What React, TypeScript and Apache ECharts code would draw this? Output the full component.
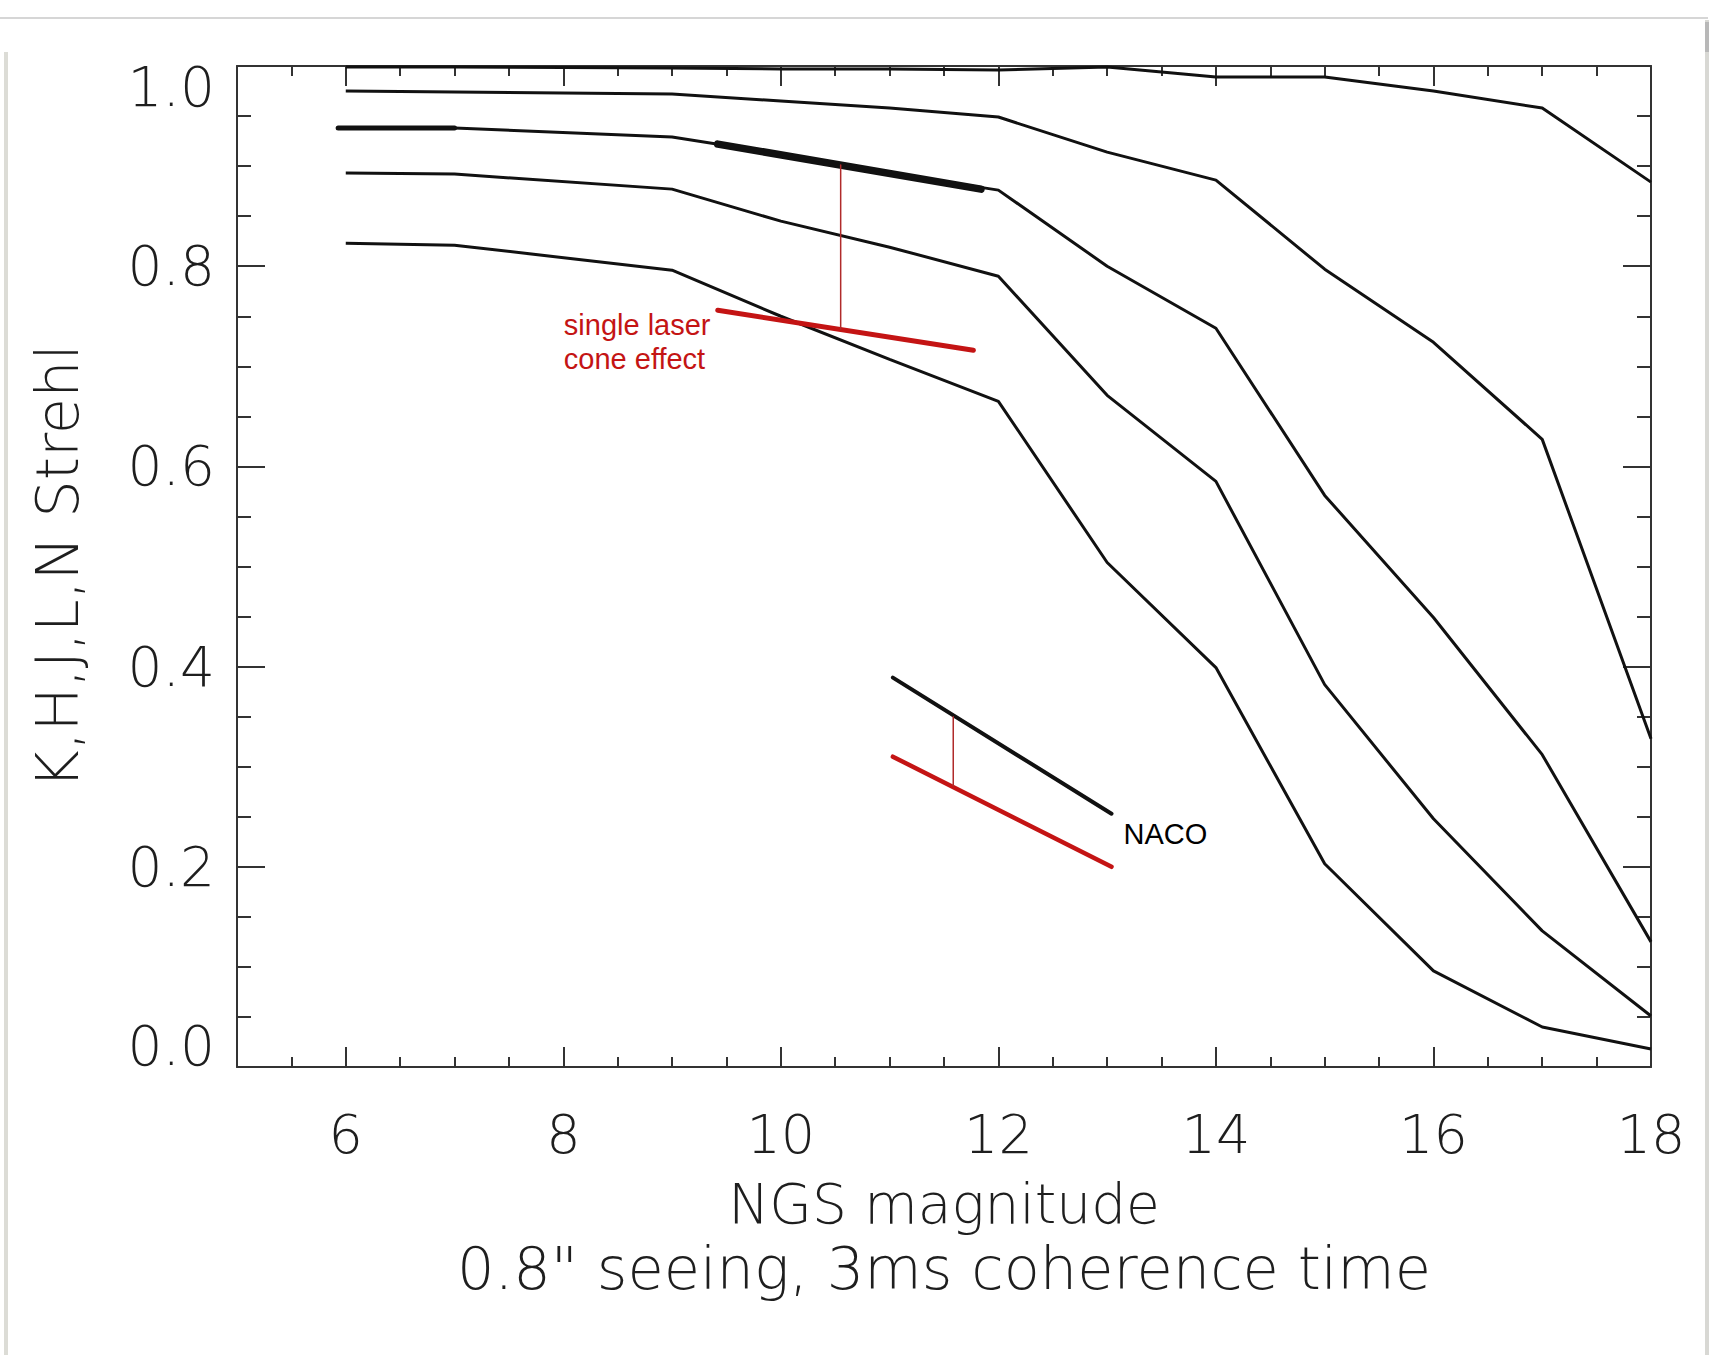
import React, { useEffect, useRef } from 'react';
import * as echarts from 'echarts';

// NGS magnitudes at which the Strehl curves have vertices
const magnitudes = [6, 7, 9, 10, 11, 12, 13, 14, 15, 16, 17, 18];
// Strehl ratio per band (top to bottom)
const strehlN = [0.999, 0.999, 0.998, 0.997, 0.997, 0.996, 0.999, 0.989, 0.989, 0.975, 0.958, 0.884];
const strehlL = [0.975, 0.974, 0.972, 0.965, 0.958, 0.949, 0.914, 0.886, 0.797, 0.724, 0.627, 0.328];
const strehlK = [0.938, 0.938, 0.929, 0.912, 0.893, 0.876, 0.8, 0.738, 0.571, 0.449, 0.312, 0.125];
const strehlH = [0.893, 0.892, 0.877, 0.845, 0.819, 0.79, 0.671, 0.585, 0.382, 0.248, 0.136, 0.051];
const strehlJ = [0.823, 0.821, 0.796, 0.75, 0.707, 0.665, 0.504, 0.399, 0.203, 0.096, 0.04, 0.018];

// annotation segments [magnitude, strehl]
const kBoldStart = [[5.93, 0.938], [7, 0.938]];
const coneBlack = [[9.42, 0.922], [11.84, 0.877]];
const coneRed = [[9.42, 0.756], [11.77, 0.716]];
const coneDrop = [[10.55, 0.901], [10.55, 0.737]];
const nacoBlack = [[11.03, 0.389], [13.04, 0.253]];
const nacoRed = [[11.03, 0.31], [13.04, 0.2]];
const nacoDrop = [[11.585, 0.35], [11.585, 0.281]];

const coneLabel = { text: 'single laser\ncone effect', at: [8.0, 0.724] };
const nacoLabel = { text: 'NACO', at: [13.146, 0.233] };

const xNameLine1 = 'NGS magnitude';
const xNameLine2 = '0.8" seeing, 3ms coherence time';
const yName = 'K,H,J,L,N Strehl';

const RED = '#c41414';
const DROP = '#b02a2a';
const AXIS = '#333333';
const FONT = "'DejaVu Sans', sans-serif";

export default function App() {
  const ref = useRef<HTMLDivElement>(null);

  useEffect(() => {
    if (!ref.current) return;
    const chart = echarts.init(ref.current, undefined, { renderer: 'svg' });

    const labelFont = { fontFamily: FONT, fontWeight: 200, fontSize: 54, color: '#1e1e1e' };
    const tickStyle = { color: AXIS, width: 2 };

    const mainX = (pos: 'bottom' | 'top', withLabels: boolean) => ({
      type: 'value',
      position: pos,
      min: 5,
      max: 18,
      splitNumber: 6,
      minInterval: 2,
      maxInterval: 2,
      axisLine: { show: true, onZero: false, lineStyle: { color: AXIS, width: 2 } },
      axisTick: { show: true, inside: true, length: 20, lineStyle: tickStyle },
      axisLabel: withLabels
        ? { show: true, ...labelFont, margin: 40, showMinLabel: false, formatter: (v: number) => (v === 5 ? '' : String(v)) }
        : { show: false },
      splitLine: { show: false },
      ...(withLabels
        ? {
            name: `{a|${xNameLine1}}\n{b|${xNameLine2}}`,
            nameLocation: 'middle',
            nameGap: 104,
            nameTextStyle: {
              ...labelFont,
              lineHeight: 65,
              rich: {
                a: { ...labelFont, fontSize: 55, lineHeight: 65 },
                b: { ...labelFont, fontSize: 59, lineHeight: 65 },
              },
            },
          }
        : {}),
    });
    const minorX = (pos: 'bottom' | 'top') => ({
      type: 'value',
      position: pos,
      min: 5,
      max: 18,
      interval: 0.5,
      axisLine: { show: false, onZero: false },
      axisTick: { show: true, inside: true, length: 10, lineStyle: tickStyle },
      axisLabel: { show: false },
      splitLine: { show: false },
    });
    const yAx = (pos: 'left' | 'right', withLabels: boolean) => ({
      type: 'value',
      position: pos,
      min: 0,
      max: 1,
      interval: 0.2,
      axisLine: { show: true, onZero: false, lineStyle: { color: AXIS, width: 2 } },
      axisTick: { show: true, inside: true, length: 28, lineStyle: tickStyle },
      minorTick: { show: true, splitNumber: 4, length: 14, lineStyle: tickStyle },
      axisLabel: withLabels
        ? {
            show: true,
            ...labelFont,
            fontSize: 55,
            margin: 22,
            lineHeight: 42,
            verticalAlignMinLabel: 'bottom',
            verticalAlignMaxLabel: 'top',
            formatter: (v: number) => v.toFixed(1),
          }
        : { show: false },
      splitLine: { show: false },
      minorSplitLine: { show: false },
      ...(withLabels
        ? {
            name: yName,
            nameLocation: 'middle',
            nameRotate: 90,
            nameGap: 150,
            nameTextStyle: { ...labelFont, fontSize: 59 },
          }
        : {}),
    });

    const curve = (name: string, ys: number[]) => ({
      name,
      type: 'line',
      data: magnitudes.map((m, i) => [m, ys[i]]),
      showSymbol: false,
      symbol: 'none',
      lineStyle: { color: '#111', width: 3 },
      silent: true,
      z: 2,
    });
    const seg = (name: string, data: number[][], color: string, width: number, z = 3) => ({
      name,
      type: 'line',
      data,
      showSymbol: false,
      symbol: 'none',
      lineStyle: { color, width, cap: 'round' },
      silent: true,
      z,
    });
    const textMark = (name: string, lab: { text: string; at: number[] }, color: string) => ({
      name,
      type: 'scatter',
      data: [lab.at],
      symbolSize: 1,
      itemStyle: { color: 'rgba(255,255,255,0)' },
      silent: true,
      z: 5,
      label: {
        show: true,
        position: 'right',
        distance: 0,
        formatter: lab.text,
        color,
        opacity: 1,
        fontFamily: "'Liberation Sans', Arial, sans-serif",
        fontWeight: 'normal',
        fontSize: 29,
        lineHeight: 34,
        align: 'left',
        verticalAlign: 'middle',
        textBorderWidth: 0,
      },
    });

    chart.setOption({
      animation: false,
      backgroundColor: '#ffffff',
      grid: { left: 237, top: 66, width: 1414, height: 1001, outerBoundsMode: 'none', containLabel: false },
      xAxis: [mainX('bottom', true), minorX('bottom'), mainX('top', false), minorX('top')],
      yAxis: [yAx('left', true), yAx('right', false)],
      graphic: [
        { type: 'rect', shape: { x: 0, y: 17, width: 1708, height: 2 }, style: { fill: '#d6d6d6' }, silent: true },
        { type: 'rect', shape: { x: 4, y: 52, width: 4, height: 1303 }, style: { fill: '#dcdcd6' }, silent: true },
        { type: 'rect', shape: { x: 1705, y: 20, width: 4, height: 1335 }, style: { fill: '#d8d8d4' }, silent: true },
        { type: 'rect', shape: { x: 1705, y: 22, width: 4, height: 30 }, style: { fill: '#b8b8b8' }, silent: true },
      ],
      series: [
        curve('N', strehlN),
        curve('L', strehlL),
        curve('K', strehlK),
        curve('H', strehlH),
        curve('J', strehlJ),
        seg('K bold start', kBoldStart, '#111', 5),
        seg('cone NGS', coneBlack, '#111', 7.5),
        seg('cone laser', coneRed, RED, 5),
        seg('cone drop', coneDrop, DROP, 1.5),
        seg('NACO NGS', nacoBlack, '#111', 4),
        seg('NACO laser', nacoRed, RED, 4.5),
        seg('NACO drop', nacoDrop, DROP, 1.5),
        textMark('cone label', coneLabel, RED),
        textMark('NACO label', nacoLabel, '#000000'),
      ],
    });

    return () => chart.dispose();
  }, []);

  return (
    <div
      ref={ref}
      style={{ position: 'absolute', left: 0, top: 0, width: 1710, height: 1355, background: '#fff' }}
    />
  );
}
